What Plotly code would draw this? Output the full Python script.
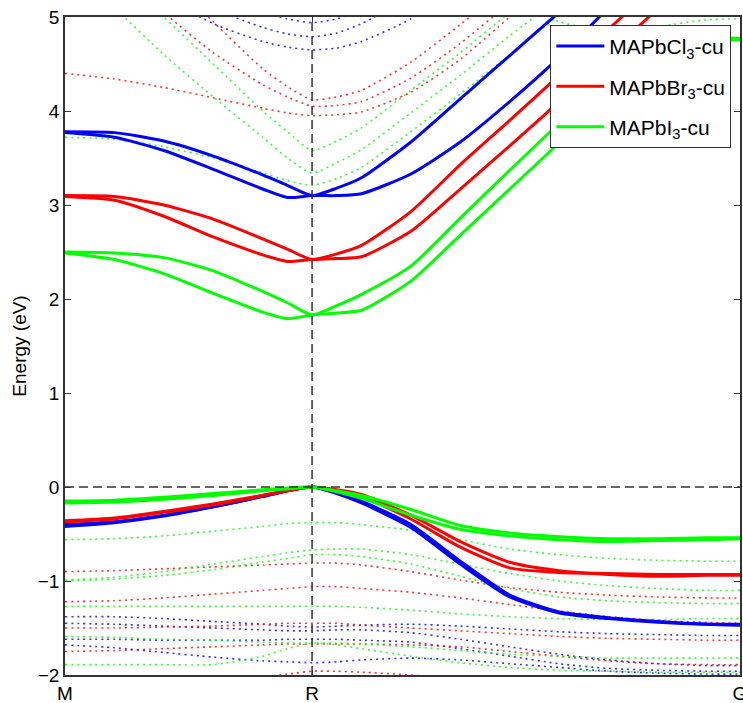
import plotly.graph_objects as go

# k-path positions (M -> R -> G)
K = [0, 0.1, 0.2, 0.3, 0.4, 0.45, 0.5, 0.55, 0.6, 0.7, 0.8, 0.9, 1.0, 1.1, 1.2, 1.3, 1.366]
kpath_ticks = [0, 0.5, 1.366]
kpath_labels = ["M", "R", "G"]
materials = ["MAPbCl<sub>3</sub>-cu", "MAPbBr<sub>3</sub>-cu", "MAPbI<sub>3</sub>-cu"]

# ---- MAPbCl3 (blue) ----
cl_cb_hi = [3.78, 3.77, 3.68, 3.52, 3.32, 3.21, 3.10, 3.18, 3.29, 3.67, 4.13, 4.59, 5.05, 5.50, 5.95, 6.40, 6.70]
cl_cb_lo = [3.77, 3.72, 3.58, 3.38, 3.17, 3.08, 3.10, 3.10, 3.12, 3.33, 3.67, 4.10, 4.57, 5.10, 5.60, 6.10, 6.40]
cl_vb1 = [-0.42, -0.38, -0.31, -0.21, -0.10, -0.04, 0.00, -0.06, -0.15, -0.40, -0.79, -1.15, -1.33, -1.39, -1.43, -1.46, -1.47]
cl_vb2 = [-0.40, -0.37, -0.30, -0.21, -0.10, -0.04, 0.00, -0.07, -0.17, -0.43, -0.82, -1.17, -1.34, -1.40, -1.44, -1.46, -1.46]
cl_d1 = [7.5, 6.5, 5.25, 4.93, 4.74, 4.68, 4.65, 4.67, 4.74, 4.98, 5.35, 5.8, 6.3, 6.8, 7.3, 7.8, 8.1]
cl_d2 = [7.8, 6.9, 5.6, 5.10, 4.89, 4.82, 4.79, 4.83, 4.93, 5.22, 5.6, 6.0, 6.5, 7.0, 7.5, 8.0, 8.3]
cl_d3 = [8.0, 7.2, 6.0, 5.35, 5.06, 4.98, 4.94, 4.98, 5.08, 5.4, 5.8, 6.2, 6.7, 7.2, 7.7, 8.2, 8.5]
cl_v1 = [-1.38, -1.38, -1.40, -1.43, -1.46, -1.48, -1.49, -1.48, -1.47, -1.46, -1.48, -1.51, -1.54, -1.56, -1.57, -1.58, -1.58]
cl_v2 = [-1.62, -1.62, -1.63, -1.63, -1.63, -1.62, -1.62, -1.62, -1.63, -1.65, -1.72, -1.80, -1.88, -1.93, -1.95, -1.96, -1.96]
cl_v3 = [-1.68, -1.71, -1.76, -1.81, -1.85, -1.86, -1.87, -1.86, -1.84, -1.82, -1.84, -1.88, -1.92, -1.96, -1.98, -1.99, -1.99]
cl_v4 = [-1.45, -1.46, -1.48, -1.50, -1.52, -1.53, -1.53, -1.52, -1.52, -1.55, -1.62, -1.70, -1.78, -1.84, -1.88, -1.90, -1.90]

# ---- MAPbBr3 (red) ----
br_cb_hi = [3.10, 3.09, 3.00, 2.85, 2.64, 2.53, 2.42, 2.48, 2.57, 2.93, 3.43, 3.90, 4.38, 4.87, 5.35, 5.80, 6.10]
br_cb_lo = [3.09, 3.05, 2.88, 2.66, 2.47, 2.40, 2.42, 2.43, 2.45, 2.72, 3.17, 3.63, 4.10, 4.60, 5.09, 5.55, 5.85]
br_vb1 = [-0.37, -0.34, -0.27, -0.19, -0.09, -0.04, 0.00, -0.04, -0.10, -0.34, -0.64, -0.86, -0.91, -0.92, -0.93, -0.93, -0.93]
br_vb2 = [-0.36, -0.33, -0.26, -0.18, -0.09, -0.04, 0.00, -0.03, -0.08, -0.30, -0.58, -0.80, -0.89, -0.93, -0.95, -0.94, -0.94]
br_d1 = [4.40, 4.34, 4.25, 4.14, 4.03, 3.98, 3.95, 3.96, 3.99, 4.20, 4.55, 5.00, 5.45, 5.9, 6.3, 6.7, 7.0]
br_d2 = [6.2, 5.6, 5.05, 4.62, 4.28, 4.15, 4.05, 4.06, 4.10, 4.35, 4.72, 5.15, 5.6, 6.0, 6.4, 6.8, 7.1]
br_d3 = [6.8, 6.2, 5.5, 4.95, 4.45, 4.26, 4.12, 4.15, 4.22, 4.52, 4.92, 5.35, 5.8, 6.2, 6.6, 7.0, 7.3]
br_v1 = [-0.90, -0.89, -0.87, -0.85, -0.83, -0.82, -0.81, -0.81, -0.83, -0.90, -0.99, -1.07, -1.12, -1.15, -1.17, -1.18, -1.18]
br_v2 = [-1.22, -1.21, -1.18, -1.14, -1.10, -1.08, -1.06, -1.06, -1.08, -1.12, -1.18, -1.25, -1.32, -1.38, -1.42, -1.44, -1.45]
br_v3 = [-1.50, -1.50, -1.49, -1.48, -1.46, -1.45, -1.45, -1.45, -1.47, -1.50, -1.53, -1.56, -1.59, -1.61, -1.62, -1.63, -1.63]
br_v4 = [-1.75, -1.74, -1.72, -1.70, -1.68, -1.67, -1.67, -1.67, -1.67, -1.68, -1.70, -1.75, -1.80, -1.85, -1.88, -1.89, -1.89]
br_v5 = [-2.30, -2.22, -2.15, -2.08, -2.02, -1.99, -1.96, -1.96, -1.97, -2.00, -2.05, -2.10, -2.15, -2.20, -2.25, -2.30, -2.30]

# ---- MAPbI3 (green) ----
i_cb_hi = [2.50, 2.49, 2.44, 2.30, 2.08, 1.96, 1.83, 1.93, 2.05, 2.35, 2.86, 3.37, 3.87, 4.37, 4.70, 4.78, 4.77]
i_cb_lo = [2.49, 2.42, 2.27, 2.06, 1.86, 1.79, 1.83, 1.85, 1.88, 2.19, 2.68, 3.17, 3.66, 4.15, 4.55, 4.73, 4.76]
i_vb1 = [-0.15, -0.14, -0.11, -0.07, -0.03, -0.01, 0.00, -0.04, -0.09, -0.24, -0.41, -0.49, -0.53, -0.55, -0.55, -0.54, -0.54]
i_vb2 = [-0.17, -0.16, -0.13, -0.09, -0.04, -0.02, 0.00, -0.05, -0.12, -0.30, -0.45, -0.52, -0.56, -0.58, -0.57, -0.56, -0.55]
i_d1 = [3.72, 3.70, 3.62, 3.50, 3.34, 3.26, 3.21, 3.28, 3.40, 3.78, 4.18, 4.60, 5.02, 5.45, 5.9, 6.3, 6.6]
i_d2 = [5.6, 5.1, 4.6, 4.15, 3.72, 3.50, 3.34, 3.45, 3.59, 3.98, 4.38, 4.80, 5.20, 5.6, 6.0, 6.4, 6.7]
i_d3 = [5.9, 5.5, 5.0, 4.5, 4.0, 3.78, 3.58, 3.68, 3.82, 4.22, 4.62, 5.05, 5.45, 5.85, 6.2, 6.6, 6.9]
i_d4 = [7.0, 6.6, 6.2, 5.8, 5.5, 5.4, 5.3, 5.3, 5.3, 5.3, 5.3, 5.2, 4.95, 4.85, 4.90, 4.97, 4.98]
i_v1 = [-0.56, -0.55, -0.52, -0.47, -0.42, -0.39, -0.38, -0.38, -0.40, -0.46, -0.56, -0.66, -0.72, -0.76, -0.78, -0.79, -0.79]
i_v2 = [-0.99, -0.96, -0.90, -0.82, -0.74, -0.70, -0.67, -0.66, -0.66, -0.72, -0.82, -0.92, -1.00, -1.05, -1.08, -1.10, -1.10]
i_v3 = [-1.00, -0.98, -0.94, -0.88, -0.80, -0.76, -0.72, -0.72, -0.74, -0.82, -0.95, -1.08, -1.17, -1.21, -1.23, -1.24, -1.24]
i_v4 = [-1.27, -1.27, -1.27, -1.27, -1.27, -1.27, -1.27, -1.27, -1.28, -1.31, -1.35, -1.38, -1.40, -1.41, -1.41, -1.40, -1.40]
i_v5 = [-1.59, -1.60, -1.62, -1.63, -1.65, -1.66, -1.66, -1.66, -1.67, -1.70, -1.74, -1.78, -1.80, -1.82, -1.82, -1.82, -1.82]
i_v6 = [-1.89, -1.89, -1.89, -1.89, -1.80, -1.72, -1.66, -1.68, -1.72, -1.80, -1.87, -1.92, -1.95, -1.96, -1.97, -1.97, -1.97]

colors = ["#0000ff", "#ff0000", "#00ff00"]
solid_sets = [
    [cl_cb_hi, cl_cb_lo, cl_vb1, cl_vb2],
    [br_cb_hi, br_cb_lo, br_vb1, br_vb2],
    [i_cb_hi, i_cb_lo, i_vb1, i_vb2],
]
dotted_sets = [
    [cl_d1, cl_d2, cl_d3, cl_v1, cl_v2, cl_v3, cl_v4],
    [br_d1, br_d2, br_d3, br_v1, br_v2, br_v3, br_v4, br_v5],
    [i_d1, i_d2, i_d3, i_d4, i_v1, i_v2, i_v3, i_v4, i_v5, i_v6],
]

fig = go.Figure()

# dotted (other) bands first
for col, bands in zip(colors, dotted_sets):
    for b in bands:
        fig.add_trace(go.Scatter(x=K, y=b, mode="lines", showlegend=False, hoverinfo="skip",
                                 opacity=0.8,
                                 line=dict(color=col, width=1.6, dash="2px,4px",
                                           shape="spline", smoothing=0.6)))

# solid band edges
for name, col, bands in zip(materials, colors, solid_sets):
    for j, b in enumerate(bands):
        fig.add_trace(go.Scatter(x=K, y=b, mode="lines", name=name, legendgroup=name,
                                 showlegend=(j == 0),
                                 line=dict(color=col, width=3, shape="spline", smoothing=0.6)))

# dashed reference lines
fig.add_shape(type="line", xref="x", yref="y", x0=K[0], x1=K[-1], y0=0, y1=0,
              line=dict(color="#333333", width=1.5, dash="9px,5px"), layer="above")
fig.add_shape(type="line", xref="x", yref="y", x0=kpath_ticks[1], x1=kpath_ticks[1], y0=-2, y1=5,
              line=dict(color="#333333", width=1.5, dash="9px,5px"), layer="above")

fig.update_layout(
    width=743, height=703,
    margin=dict(l=65, r=1, t=17, b=28),
    plot_bgcolor="white", paper_bgcolor="white",
    font=dict(family="Liberation Sans, Arial, sans-serif", color="black"),
    xaxis=dict(range=[K[0], K[-1]], tickvals=kpath_ticks, ticktext=kpath_labels,
               ticks="inside", ticklen=5, tickcolor="#333333", ticklabeloverflow="allow",
               automargin=False,
               showline=True, linecolor="#333333", linewidth=1.5, mirror="ticks",
               showgrid=False, zeroline=False, tickfont=dict(size=19)),
    yaxis=dict(range=[-2, 5], dtick=1, ticks="inside", ticklen=6, tickcolor="#333333",
               showline=True, linecolor="#333333", linewidth=1.5, mirror="ticks",
               showgrid=False, zeroline=False, tickfont=dict(size=19),
               title=dict(text="Energy (eV)", font=dict(size=19), standoff=6)),
    legend=dict(x=0.719, y=0.988, xanchor="left", yanchor="top",
                bordercolor="#333333", borderwidth=1, bgcolor="white",
                itemwidth=48, font=dict(size=21)),
)

fig.write_html("out.html")
